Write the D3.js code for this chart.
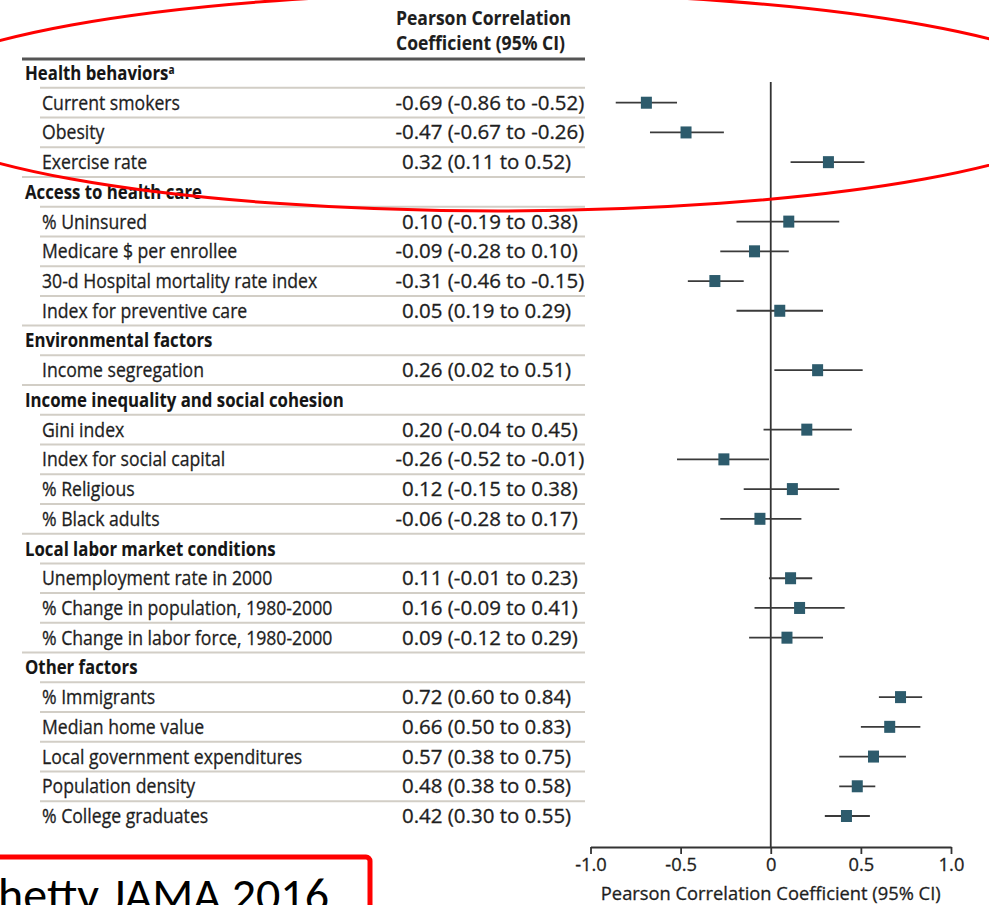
<!DOCTYPE html>
<html><head><meta charset="utf-8">
<script src="https://cdn.jsdelivr.net/npm/d3@7"></script>
<style>html,body{margin:0;padding:0;background:#fff;} svg{display:block}</style>
</head><body>
<svg id="chart" width="989" height="905"></svg>
<script>
const groups = ["Health behaviors","Access to health care","Environmental factors","Income inequality and social cohesion","Local labor market conditions","Other factors"];
const factors = ["Current smokers","Obesity","Exercise rate","% Uninsured","Medicare $ per enrollee","30-d Hospital mortality rate index","Index for preventive care","Income segregation","Gini index","Index for social capital","% Religious","% Black adults","Unemployment rate in 2000","% Change in population, 1980-2000","% Change in labor force, 1980-2000","% Immigrants","Median home value","Local government expenditures","Population density","% College graduates"];
const factorGroup = [0,0,0,1,1,1,1,2,3,3,3,3,4,4,4,5,5,5,5,5];
const estimates = [-0.69,-0.47,0.32,0.10,-0.09,-0.31,0.05,0.26,0.20,-0.26,0.12,-0.06,0.11,0.16,0.09,0.72,0.66,0.57,0.48,0.42];
const ciLower = [-0.86,-0.67,0.11,-0.19,-0.28,-0.46,-0.19,0.02,-0.04,-0.52,-0.15,-0.28,-0.01,-0.09,-0.12,0.60,0.50,0.38,0.38,0.30];
const ciUpper = [-0.52,-0.26,0.52,0.38,0.10,-0.15,0.29,0.51,0.45,-0.01,0.38,0.17,0.23,0.41,0.29,0.84,0.83,0.75,0.58,0.55];
const ciLabels = ["-0.69 (-0.86 to -0.52)","-0.47 (-0.67 to -0.26)","0.32 (0.11 to 0.52)","0.10 (-0.19 to 0.38)","-0.09 (-0.28 to 0.10)","-0.31 (-0.46 to -0.15)","0.05 (0.19 to 0.29)","0.26 (0.02 to 0.51)","0.20 (-0.04 to 0.45)","-0.26 (-0.52 to -0.01)","0.12 (-0.15 to 0.38)","-0.06 (-0.28 to 0.17)","0.11 (-0.01 to 0.23)","0.16 (-0.09 to 0.41)","0.09 (-0.12 to 0.29)","0.72 (0.60 to 0.84)","0.66 (0.50 to 0.83)","0.57 (0.38 to 0.75)","0.48 (0.38 to 0.58)","0.42 (0.30 to 0.55)"];
const tickValues = [-1,-0.5,0,0.5,1];
const tickLabels = ["-1.0","-0.5","0","0.5","1.0"];
const columnTitle = ["Pearson Correlation","Coefficient (95% CI)"];
const axisTitle = "Pearson Correlation Coefficient (95% CI)";
const citation = "Chetty JAMA 2016";

const svg = d3.select("#chart");
const FONT = "'Open Sans','Noto Sans',sans-serif";
const TXT = "#1e1e1e";

function measure(str, weight, size, family) {
  const t = svg.append("text").attr("font-family", family).attr("font-weight", weight)
    .attr("font-size", size).text(str);
  const w = t.node().getComputedTextLength(); t.remove(); return w;
}
function drawText(g, x, y, str, o) {
  const fill = o.fill || TXT;
  return g.append("text")
    .attr("transform", `translate(${x},${y}) scale(${o.k},1)`)
    .attr("font-family", o.family || FONT).attr("font-weight", o.weight || "normal")
    .attr("font-size", o.size).attr("text-anchor", o.anchor || "start")
    .attr("fill", fill).attr("stroke", fill).attr("stroke-width", o.sw == null ? 0.3 : o.sw)
    .text(str);
}

// horizontal compression factors fitted to reference widths
const SZ = 20;
const kItem = 138 / measure("Current smokers", "normal", SZ, FONT);
const kGroup = 319 / measure("Income inequality and social cohesion", "bold", SZ, FONT);
const kVal = 189 / measure("-0.69 (-0.86 to -0.52)", "normal", SZ, FONT);
const kHead = 169 / measure("Coefficient (95% CI)", "bold", SZ, FONT);
const kAxis = 340 / measure(axisTitle, "normal", 18.5, FONT);
const minusW = measure("-", "normal", SZ, FONT) * kVal;

// rows
const rows = [];
factors.forEach((f, i) => {
  if (i === 0 || factorGroup[i] !== factorGroup[i - 1]) rows.push({type: "group", g: factorGroup[i]});
  rows.push({type: "item", i});
});
const y = d3.scalePoint().domain(d3.range(rows.length)).range([73, 816]);
const x = d3.scaleLinear().domain([-1, 1]).range([590.5, 951]);

const table = svg.append("g");
// separator lines
for (let r = 0; r < rows.length - 1; r++) {
  const yy = (y(r) + y(r + 1)) / 2;
  const full = rows[r + 1].type === "group";
  table.append("line").attr("x1", full ? 22 : 40).attr("x2", 585)
    .attr("y1", yy).attr("y2", yy).attr("stroke", "#d2cec6").attr("stroke-width", 2);
}
// header
table.append("line").attr("x1", 22).attr("x2", 585).attr("y1", 59).attr("y2", 59)
  .attr("stroke", "#555").attr("stroke-width", 3);
drawText(table, 396, 24.5, columnTitle[0], {k: kHead, weight: "bold", size: SZ, sw: 0.1});
drawText(table, 396, 50, columnTitle[1], {k: kHead, weight: "bold", size: SZ, sw: 0.1});

rows.forEach((row, r) => {
  const yy = y(r) + 7;
  if (row.type === "group") {
    const t = drawText(table, 25, yy, groups[row.g], {k: kGroup, weight: "bold", size: SZ, fill: "#151515", sw: 0.1});
    if (row.g === 0) t.append("tspan").attr("font-size", 12).attr("dy", -6).text("a");
  } else {
    const i = row.i;
    drawText(table, 42, yy, factors[i], {k: kItem, size: SZ});
    const neg = ciLabels[i].startsWith("-");
    drawText(table, 402 - (neg ? minusW : 0), yy, ciLabels[i], {k: kVal, size: SZ});
  }
});

// plot
const plot = svg.append("g");
plot.append("line").attr("x1", x(0)).attr("x2", x(0)).attr("y1", 82).attr("y2", 847)
  .attr("stroke", "#333").attr("stroke-width", 1.8);
const items = rows.map((row, r) => ({row, r})).filter(d => d.row.type === "item");
plot.selectAll("line.ci").data(items).join("line").attr("class", "ci")
  .attr("x1", d => x(ciLower[d.row.i])).attr("x2", d => x(ciUpper[d.row.i]))
  .attr("y1", d => y(d.r)).attr("y2", d => y(d.r))
  .attr("stroke", "#3a3a3a").attr("stroke-width", 1.8);
plot.selectAll("rect.pt").data(items).join("rect").attr("class", "pt")
  .attr("x", d => x(estimates[d.row.i]) - 5.5).attr("y", d => y(d.r) - 6)
  .attr("width", 11).attr("height", 12).attr("fill", "#2d5b6c");

// axis
const axis = svg.append("g").attr("transform", "translate(0,847)")
  .call(d3.axisBottom(x).tickValues(tickValues).tickFormat((d, i) => tickLabels[i])
    .tickSize(7).tickSizeOuter(0).tickPadding(4));
axis.select(".domain").attr("stroke", "#333").attr("stroke-width", 1.8);
axis.selectAll(".tick line").attr("stroke", "#333").attr("stroke-width", 1.8);
axis.selectAll(".tick text").attr("font-family", FONT).attr("font-size", 18.5)
  .attr("fill", TXT).attr("stroke", TXT).attr("stroke-width", 0.3)
  .attr("transform", `scale(${kAxis},1)`);
drawText(svg, x(0), 899.5, axisTitle, {k: kAxis, size: 18.5, anchor: "middle"});

// annotations
svg.append("rect").attr("x", -20).attr("y", 857).attr("width", 390).attr("height", 80)
  .attr("rx", 4).attr("fill", "none").attr("stroke", "#ff0000").attr("stroke-width", 5);
const CFONT = "Carlito,'Open Sans',sans-serif";
const cSize = 42 * 331 / measure("hetty JAMA 2016", "normal", 42, CFONT);
svg.append("text").attr("x", 329).attr("y", 911).attr("text-anchor", "end")
  .attr("font-family", CFONT).attr("font-size", cSize).attr("fill", "#000").text(citation);

svg.append("ellipse").attr("cx", 498).attr("cy", 102).attr("rx", 603).attr("ry", 109)
  .attr("fill", "none").attr("stroke", "#ff0000").attr("stroke-width", 3);
</script>
</body></html>
